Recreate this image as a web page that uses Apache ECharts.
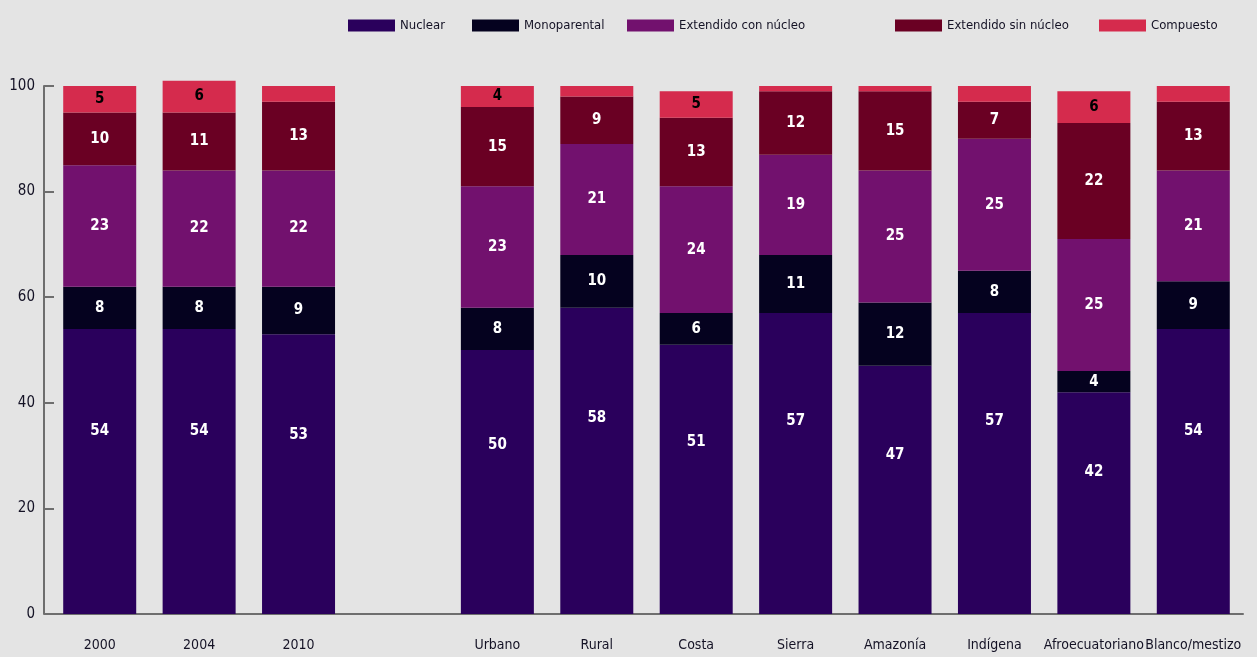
<!DOCTYPE html>
<html>
<head>
<meta charset="utf-8">
<script src="https://cdn.jsdelivr.net/npm/echarts@6/dist/echarts.min.js"></script>
<style>
  html, body { margin: 0; padding: 0; background: #e4e4e4; }
  #main { width: 1257px; height: 657px; }
</style>
</head>
<body>
<div id="main"></div>
<script>
// categorias (la cuarta esta vacia: separa los anos de los grupos)
var categories = ['2000', '2004', '2010', '', 'Urbano', 'Rural', 'Costa', 'Sierra', 'Amazonía', 'Indígena', 'Afroecuatoriano', 'Blanco/mestizo'];
var nuclear      = [54, 54, 53, '-', 50, 58, 51, 57, 47, 57, 42, 54];
var monoparental = [8, 8, 9, '-', 8, 10, 6, 11, 12, 8, 4, 9];
var conNucleo    = [23, 22, 22, '-', 23, 21, 24, 19, 25, 25, 25, 21];
var sinNucleo    = [10, 11, 13, '-', 15, 9, 13, 12, 15, 7, 22, 13];
var compuesto    = [5, 6, 3, '-', 4, 2, 5, 1, 1, 3, 6, 3];
var yTicks = [0, 20, 40, 60, 80, 100];

var font = "'Liberation Sans Narrow', 'DejaVu Sans Condensed', 'Roboto Condensed', sans-serif";
var names = ['Nuclear', 'Monoparental', 'Extendido con núcleo', 'Extendido sin núcleo', 'Compuesto'];
var colors = ['#2a005c', '#05021f', '#72116e', '#6a0023', '#d52b4d'];
var legendLeft = [343, 467, 622, 890, 1094];

var myChart = echarts.init(document.getElementById('main'));

function seg(name, data, extra) {
    var s = {
        name: name,
        type: 'bar',
        stack: 'total',
        barWidth: 73,
        clip: false,
        data: data,
        label: {
            show: true,
            color: '#ffffff',
            fontFamily: font,
            fontWeight: 'bold',
            fontSize: 15
        }
    };
    return Object.assign(s, extra || {});
}

var option = {
    backgroundColor: '#e4e4e4',
    animation: false,
    color: colors,
    legend: names.map(function (n, i) {
        return {
            data: [n],
            left: legendLeft[i],
            top: 14,
            icon: 'rect',
            itemWidth: 47,
            itemHeight: 12,
            itemStyle: { borderWidth: 0 },
            textStyle: { fontFamily: font, fontSize: 13, color: '#141225' }
        };
    }),
    grid: {
        left: 50,
        right: 14,
        top: 86,
        bottom: 43
    },
    xAxis: {
        type: 'category',
        data: categories,
        axisLine: { lineStyle: { color: '#6e6e6e', width: 2 } },
        axisTick: { inside: true, length: 12, lineStyle: { color: '#6e6e6e', width: 1.5 } },
        axisLabel: {
            margin: 24,
            fontFamily: font,
            fontSize: 14,
            color: '#141225',
            interval: 0
        }
    },
    yAxis: {
        type: 'value',
        min: 0,
        max: 100,
        interval: 20,
        offset: 6,
        splitLine: { show: false },
        axisLine: { show: true, lineStyle: { color: '#6e6e6e', width: 2 } },
        axisTick: { show: true, inside: true, length: 10, lineStyle: { color: '#6e6e6e', width: 2 } },
        axisLabel: {
            margin: 9,
            fontFamily: font,
            fontSize: 15,
            color: '#141225',
            formatter: function (v) { return yTicks.indexOf(v) >= 0 ? v : ''; }
        }
    },
    series: [
        seg(names[0], nuclear, {
            label: {
                show: true, position: ['50%', '36%'], align: 'center', verticalAlign: 'middle',
                color: '#ffffff', fontFamily: font, fontWeight: 'bold', fontSize: 15
            }
        }),
        seg(names[1], monoparental),
        seg(names[2], conNucleo),
        seg(names[3], sinNucleo),
        seg(names[4], compuesto, {
            label: {
                show: true, color: '#000000', fontFamily: font, fontWeight: 'bold', fontSize: 15,
                formatter: function (p) { return p.value >= 4 ? p.value : ''; }
            }
        })
    ]
};
myChart.setOption(option);
</script>
</body>
</html>
